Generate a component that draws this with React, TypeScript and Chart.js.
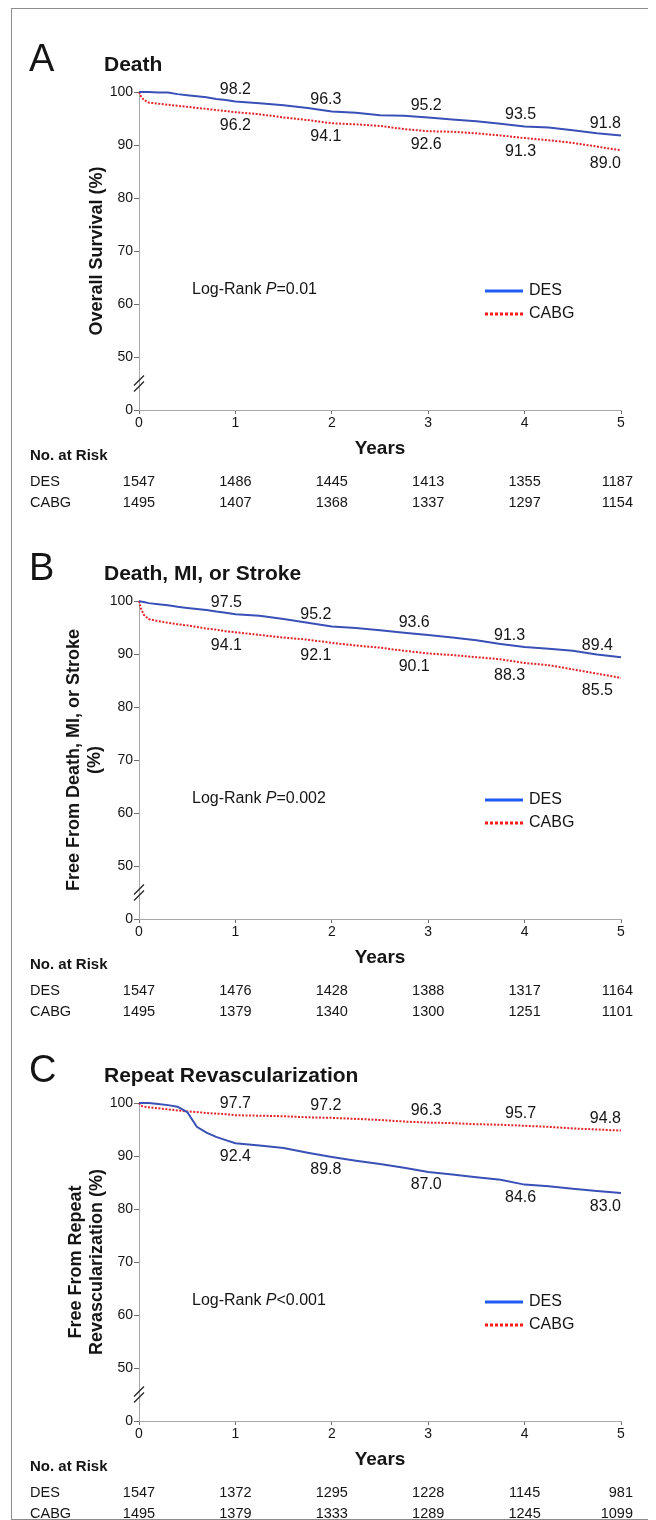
import React, { useEffect, useRef } from "react";
import { Chart, registerables } from "chart.js";

Chart.register(...registerables);

// ---------------- data ----------------
const timeYears = [0, 0.02, 0.05, 0.1, 0.2, 0.3, 0.4, 0.5, 0.6, 0.7, 0.8, 0.9, 1, 1.25, 1.5, 1.75, 2, 2.25, 2.5, 2.75, 3, 3.25, 3.5, 3.75, 4, 4.25, 4.5, 4.75, 5];

const deathDes = [100, 100, 100, 100, 99.9, 99.9, 99.6, 99.4, 99.2, 99.0, 98.7, 98.5, 98.2, 97.9, 97.5, 97.0, 96.3, 96.1, 95.6, 95.5, 95.2, 94.8, 94.5, 94.0, 93.5, 93.3, 92.8, 92.2, 91.8];
const deathCabg = [100, 99.2, 98.5, 98.0, 97.8, 97.6, 97.4, 97.2, 97.0, 96.8, 96.6, 96.4, 96.2, 95.8, 95.2, 94.7, 94.1, 93.9, 93.6, 93.0, 92.6, 92.5, 92.2, 91.8, 91.3, 90.9, 90.4, 89.7, 89.0];

const mceDes = [100, 99.9, 99.8, 99.6, 99.4, 99.2, 98.9, 98.7, 98.5, 98.3, 98.0, 97.8, 97.5, 97.2, 96.6, 95.9, 95.2, 94.9, 94.5, 94.0, 93.6, 93.1, 92.6, 91.9, 91.3, 91.0, 90.6, 89.9, 89.4];
const mceCabg = [100, 98.6, 97.4, 96.6, 96.2, 95.9, 95.6, 95.4, 95.1, 94.8, 94.6, 94.3, 94.1, 93.6, 93.1, 92.7, 92.1, 91.6, 91.2, 90.6, 90.1, 89.8, 89.4, 89.0, 88.3, 87.9, 87.1, 86.3, 85.5];

const revascDes = [100, 100, 100, 100, 99.8, 99.6, 99.3, 98.3, 95.5, 94.4, 93.6, 93.0, 92.4, 92.0, 91.5, 90.6, 89.8, 89.1, 88.5, 87.8, 87.0, 86.5, 86.0, 85.5, 84.6, 84.3, 83.8, 83.4, 83.0];
const revascCabg = [100, 99.5, 99.3, 99.2, 99.0, 98.8, 98.6, 98.4, 98.3, 98.1, 98.0, 97.9, 97.7, 97.6, 97.5, 97.3, 97.2, 97.0, 96.8, 96.5, 96.3, 96.2, 96.0, 95.9, 95.7, 95.5, 95.2, 95.0, 94.8];

const landmarkYears = [1, 2, 3, 4, 5];
const deathDesLabels = [98.2, 96.3, 95.2, 93.5, 91.8];
const deathCabgLabels = [96.2, 94.1, 92.6, 91.3, 89.0];
const mceDesLabels = [97.5, 95.2, 93.6, 91.3, 89.4];
const mceCabgLabels = [94.1, 92.1, 90.1, 88.3, 85.5];
const revascDesLabels = [92.4, 89.8, 87.0, 84.6, 83.0];
const revascCabgLabels = [97.7, 97.2, 96.3, 95.7, 94.8];

const riskYears = [0, 1, 2, 3, 4, 5];
const deathRiskDes = [1547, 1486, 1445, 1413, 1355, 1187];
const deathRiskCabg = [1495, 1407, 1368, 1337, 1297, 1154];
const mceRiskDes = [1547, 1476, 1428, 1388, 1317, 1164];
const mceRiskCabg = [1495, 1379, 1340, 1300, 1251, 1101];
const revascRiskDes = [1547, 1372, 1295, 1228, 1145, 981];
const revascRiskCabg = [1495, 1379, 1333, 1289, 1245, 1099];

const xTickValues = [0, 1, 2, 3, 4, 5];
const xTickLabels = ["0", "1", "2", "3", "4", "5"];
const yTickValues = [40, 50, 60, 70, 80, 90, 100];
const yTickLabels = ["0", "50", "60", "70", "80", "90", "100"];
const yBreakValue = 45;

// ---------------- styles / layout ----------------
const FONT = "'Liberation Sans', Arial, Helvetica, sans-serif";
const TEXT = "#151515";
const DES_COLOR = "#3a50b6";
const CABG_COLOR = "#e3262b";
const LEGEND_DES = "#1f5cf5";
const LEGEND_CABG = "#ff1a1a";
const AXIS = "#a8a8a8";
const TICK = "#707070";
const CANVAS_W = 639;

type Panel = {
  letter: string;
  title: string;
  yTitle: string[];
  yTitlePad: number;
  pSign: string;
  pValue: string;
  des: number[];
  cabg: number[];
  desLabels: number[];
  cabgLabels: number[];
  riskDes: number[];
  riskCabg: number[];
  height: number;
  nudges: number[];
  endNudge: number;
};

const PANELS: Panel[] = [
  {
    letter: "A", title: "Death", yTitle: ["Overall Survival (%)"], yTitlePad: 74.8,
    pSign: "=", pValue: "0.01",
    des: deathDes, cabg: deathCabg, desLabels: deathDesLabels, cabgLabels: deathCabgLabels,
    riskDes: deathRiskDes, riskCabg: deathRiskCabg,
    height: 509, nudges: [0, -6, -2, -4], endNudge: 0,
  },
  {
    letter: "B", title: "Death, MI, or Stroke", yTitle: ["Free From Death, MI, or Stroke", "(%)"], yTitlePad: 51.5,
    pSign: "=", pValue: "0.002",
    des: mceDes, cabg: mceCabg, desLabels: mceDesLabels, cabgLabels: mceCabgLabels,
    riskDes: mceRiskDes, riskCabg: mceRiskCabg,
    height: 502, nudges: [-9, -16, -14, -15], endNudge: -8,
  },
  {
    letter: "C", title: "Repeat Revascularization", yTitle: ["Free From Repeat", "Revascularization (%)"], yTitlePad: 53.5,
    pSign: "<", pValue: "0.001",
    des: revascDes, cabg: revascCabg, desLabels: revascDesLabels, cabgLabels: revascCabgLabels,
    riskDes: revascRiskDes, riskCabg: revascRiskCabg,
    height: 499, nudges: [0, -6, -2, -4], endNudge: 0,
  },
];

function makePanelPlugin(p: Panel) {
  return {
    id: "kmPanel" + p.letter,
    afterDraw(chart: any) {
      const { ctx } = chart;
      const xs = chart.scales.x;
      const ys = chart.scales.y;
      ctx.save();
      ctx.fillStyle = TEXT;

      // panel letter and title
      ctx.textAlign = "left";
      ctx.textBaseline = "alphabetic";
      ctx.font = `38px ${FONT}`;
      ctx.fillText(p.letter, 17, 62);
      ctx.font = `bold 21px ${FONT}`;
      ctx.fillText(p.title, 92, 62);

      // axis break marks
      const ax = chart.chartArea.left;
      const by = ys.getPixelForValue(yBreakValue);
      ctx.strokeStyle = "#222";
      ctx.lineWidth = 1.3;
      ctx.setLineDash([]);
      [-3, 3].forEach((k) => {
        ctx.beginPath();
        ctx.moveTo(ax - 5, by + k + 5);
        ctx.lineTo(ax + 5, by + k - 5);
        ctx.stroke();
      });

      // landmark annotations
      ctx.font = `16px ${FONT}`;
      ctx.textBaseline = "middle";
      landmarkYears.forEach((yr, i) => {
        const d = p.desLabels[i];
        const c = p.cabgLabels[i];
        const last = i === landmarkYears.length - 1;
        const px = xs.getPixelForValue(yr) + (last ? p.endNudge : p.nudges[i]);
        ctx.textAlign = last ? "right" : "center";
        [
          [d, d >= c],
          [c, c > d],
        ].forEach(([v, upper]: any) => {
          const py = ys.getPixelForValue(v) + (upper ? -12 : 13);
          ctx.fillText(v.toFixed(1), px, py);
        });
      });

      // log-rank text
      const ly = 281;
      let lx = 180;
      ctx.textAlign = "left";
      ctx.font = `16px ${FONT}`;
      ctx.fillText("Log-Rank ", lx, ly);
      lx += ctx.measureText("Log-Rank ").width;
      ctx.font = `italic 16px ${FONT}`;
      ctx.fillText("P", lx, ly);
      lx += ctx.measureText("P").width;
      ctx.font = `16px ${FONT}`;
      ctx.fillText(p.pSign + p.pValue, lx, ly);

      // legend
      const legX0 = 473, legX1 = 511, legY1 = 282, legY2 = 305;
      ctx.lineWidth = 3;
      ctx.strokeStyle = LEGEND_DES;
      ctx.beginPath();
      ctx.moveTo(legX0, legY1);
      ctx.lineTo(legX1, legY1);
      ctx.stroke();
      ctx.strokeStyle = LEGEND_CABG;
      ctx.setLineDash([3, 2]);
      ctx.beginPath();
      ctx.moveTo(legX0, legY2);
      ctx.lineTo(legX1, legY2);
      ctx.stroke();
      ctx.setLineDash([]);
      ctx.fillText("DES", legX1 + 6, legY1);
      ctx.fillText("CABG", legX1 + 6, legY2);

      // number at risk
      const rowDes = 473;
      const rowCabg = 493.5;
      ctx.font = `bold 15px ${FONT}`;
      ctx.fillText("No. at Risk", 18, 447);
      ctx.font = `14.5px ${FONT}`;
      ctx.fillText("DES", 18, rowDes);
      ctx.fillText("CABG", 18, rowCabg);
      riskYears.forEach((yr, i) => {
        const last = i === riskYears.length - 1;
        const px = xs.getPixelForValue(yr) + (last ? 12 : 0);
        ctx.textAlign = last ? "right" : "center";
        ctx.fillText(String(p.riskDes[i]), px, rowDes);
        ctx.fillText(String(p.riskCabg[i]), px, rowCabg);
      });
      ctx.restore();
    },
  };
}

function makeConfig(p: Panel): any {
  const H = p.height;
  return {
    type: "line",
    data: {
      datasets: [
        {
          label: "DES",
          data: timeYears.map((t, i) => ({ x: t, y: p.des[i] })),
          borderColor: DES_COLOR,
          borderWidth: 2,
          pointRadius: 0,
          tension: 0,
          clip: false,
        },
        {
          label: "CABG",
          data: timeYears.map((t, i) => ({ x: t, y: p.cabg[i] })),
          borderColor: CABG_COLOR,
          borderWidth: 2,
          borderDash: [2, 1.5],
          pointRadius: 0,
          tension: 0,
          clip: false,
        },
      ],
    },
    options: {
      responsive: false,
      animation: false,
      devicePixelRatio: 1,
      events: [],
      layout: { padding: { left: 0, right: 30, top: 83, bottom: H - 461 } },
      plugins: { legend: { display: false }, tooltip: { enabled: false }, title: { display: false } },
      scales: {
        x: {
          type: "linear",
          min: 0,
          max: 5,
          afterBuildTicks: (s: any) => {
            s.ticks = xTickValues.map((v) => ({ value: v }));
          },
          afterFit: (s: any) => {
            s.height = 60;
          },
          border: { display: true, color: AXIS, width: 1 },
          grid: { display: true, drawOnChartArea: false, drawTicks: true, tickLength: 4, tickColor: TICK },
          ticks: {
            color: TEXT,
            font: { family: FONT, size: 14 },
            padding: 1,
            maxRotation: 0,
            autoSkip: false,
            callback: (_v: any, i: number) => xTickLabels[i],
          },
          title: {
            display: true,
            text: "Years",
            color: TEXT,
            font: { family: FONT, size: 19, weight: "bold" },
            padding: { top: 0, bottom: 10 },
          },
        },
        y: {
          type: "linear",
          min: 40,
          max: 100,
          afterBuildTicks: (s: any) => {
            s.ticks = yTickValues.map((v) => ({ value: v }));
          },
          afterFit: (s: any) => {
            s.width = 127;
          },
          border: { display: true, color: AXIS, width: 1 },
          grid: { display: true, drawOnChartArea: false, drawTicks: true, tickLength: 5, tickColor: TICK },
          ticks: {
            color: TEXT,
            font: { family: FONT, size: 14 },
            padding: 1,
            autoSkip: false,
            callback: (_v: any, i: number) => yTickLabels[i],
          },
          title: {
            display: true,
            text: p.yTitle,
            color: TEXT,
            font: { family: FONT, size: 18, weight: "bold", lineHeight: 1.17 },
            padding: { top: p.yTitlePad, bottom: 0 },
          },
        },
      },
    },
    plugins: [makePanelPlugin(p)],
  };
}

function KMPanel({ panel }: { panel: Panel }) {
  const ref = useRef<HTMLCanvasElement>(null);
  useEffect(() => {
    if (!ref.current) return;
    const chart = new Chart(ref.current, makeConfig(panel));
    return () => chart.destroy();
  }, [panel]);
  return (
    <canvas
      ref={ref}
      width={CANVAS_W}
      height={panel.height}
      style={{ display: "block", width: CANVAS_W, height: panel.height }}
    />
  );
}

export default function App() {
  return (
    <div
      style={{
        marginLeft: 3,
        width: CANVAS_W + 2,
        border: "1px solid #8c8c8c",
        boxSizing: "border-box",
        background: "#fff",
      }}
    >
      {PANELS.map((p) => (
        <KMPanel key={p.letter} panel={p} />
      ))}
    </div>
  );
}
